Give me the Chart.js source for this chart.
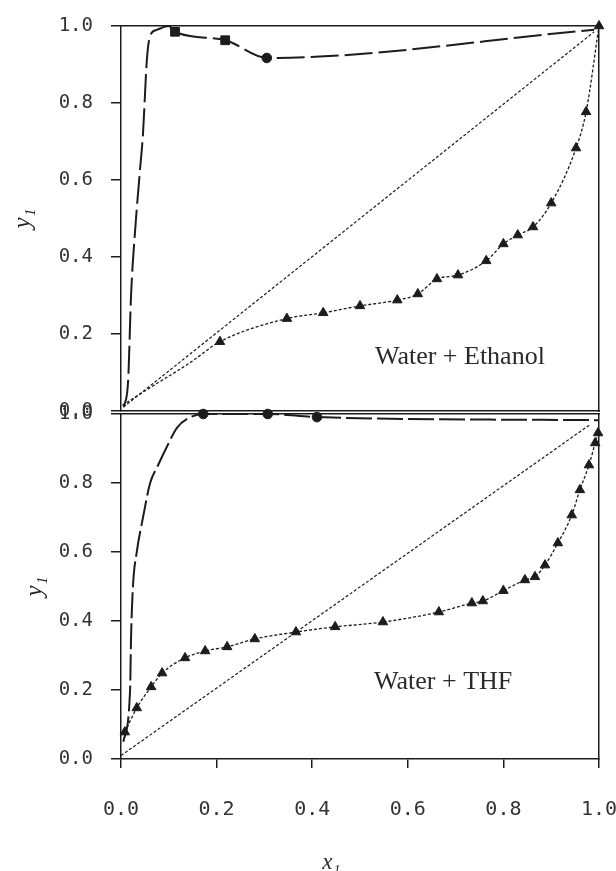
<!DOCTYPE html>
<html>
<head>
<meta charset="utf-8">
<script src="https://cdn.jsdelivr.net/npm/chart.js@4.4.1/dist/chart.umd.min.js"></script>
<style>
  body{margin:0;background:#fff;}
  #wrap{position:relative;width:616px;height:871px;}
  #wrap canvas{position:absolute;left:0;top:0;}
</style>
</head>
<body>
<div id="wrap">
  <canvas id="topChart" width="616" height="871"></canvas>
  <canvas id="bottomChart" width="616" height="871"></canvas>
</div>
<script>

/* =========================================
   Data
========================================= */

const yTicks = [0, 0.2, 0.4, 0.6, 0.8, 1.0];
const xTicks = [0, 0.2, 0.4, 0.6, 0.8, 1.0];

// y = x reference lines
const diagTopX = [0.005, 0.99];
const diagTopY = [0.01, 0.985];
const diagBotX = [0.0, 0.98];
const diagBotY = [0.01, 0.968];

// Water + Ethanol : lower curve + triangles
const ethLeadX = [0.003, 0.06, 0.144];
const ethLeadY = [0.015, 0.06, 0.125];
const ethTriX = [0.207, 0.347, 0.423, 0.50, 0.578, 0.621, 0.661, 0.705, 0.764, 0.80, 0.83, 0.862, 0.90, 0.952, 0.973, 1.0];
const ethTriY = [0.18, 0.24, 0.255, 0.273, 0.288, 0.304, 0.343, 0.353, 0.39, 0.434, 0.457, 0.478, 0.54, 0.683, 0.777, 1.0];

// Water + Ethanol : upper dashed curve + squares / circle
const ethVapX = [0.006, 0.015, 0.021, 0.029, 0.040, 0.046, 0.054, 0.061, 0.075, 0.10, 0.113, 0.218, 0.305, 0.99];
const ethVapY = [0.01, 0.08, 0.30, 0.46, 0.63, 0.72, 0.91, 0.975, 0.99, 1.0, 0.985, 0.963, 0.917, 0.99];
const ethSqX = [0.113, 0.218];
const ethSqY = [0.985, 0.963];
const ethCircX = [0.305];
const ethCircY = [0.917];

// Water + THF : lower curve with triangles
const thfTriX = [0.008, 0.033, 0.063, 0.086, 0.134, 0.176, 0.222, 0.28, 0.366, 0.448, 0.548, 0.665, 0.734, 0.757, 0.80, 0.845, 0.866, 0.887, 0.914, 0.943, 0.96, 0.979, 0.992, 0.998];
const thfTriY = [0.078, 0.148, 0.209, 0.249, 0.293, 0.313, 0.325, 0.348, 0.368, 0.383, 0.397, 0.426, 0.452, 0.458, 0.488, 0.519, 0.528, 0.562, 0.626, 0.707, 0.78, 0.852, 0.916, 0.945];

// Water + THF : upper dashed curve + circles
const thfVapX = [0.005, 0.019, 0.021, 0.025, 0.033, 0.046, 0.061, 0.077, 0.096, 0.117, 0.144, 0.172, 0.307, 0.41, 1.0];
const thfVapY = [0.05, 0.20, 0.35, 0.50, 0.60, 0.70, 0.80, 0.85, 0.905, 0.96, 0.99, 1.0, 1.0, 0.991, 0.982];
const thfCircX = [0.172, 0.307, 0.41];
const thfCircY = [1.0, 1.0, 0.991];


/* =========================================
   Helpers
========================================= */

const INK = "#1c1c1c";

function pts(xs, ys){
    return xs.map((x,i)=>({x, y:ys[i]}));
}

function curve(data, width, dash){
    return {
        data, showLine:true, borderColor:INK, borderWidth:width,
        borderDash:dash, pointRadius:0, cubicInterpolationMode:"monotone", clip:false
    };
}

function markers(data, style, r){
    return {
        data, showLine:false, pointStyle:style, pointRadius:r,
        backgroundColor:INK, borderColor:INK, borderWidth:1, clip:false
    };
}

const panelText = {
    id:"panelText",
    afterDatasetsDraw(chart, args, opts){
        const {ctx, scales:{x, y}} = chart;
        ctx.save();
        ctx.fillStyle = "#2a2a2a";
        ctx.textAlign = "center";
        ctx.textBaseline = "middle";
        (opts.items || []).forEach(it=>{
            ctx.font = it.font;
            ctx.fillText(it.text, x.getPixelForValue(it.x), y.getPixelForValue(it.y));
        });
        ctx.restore();
    }
};

function frameAxis(pos){
    return {
        type:"linear", position:pos, min:0, max:1,
        ticks:{display:false},
        grid:{display:false},
        border:{display:true, color:INK, width:1.5},
        afterFit:s=>{
            if(pos==="top"||pos==="bottom") s.height = 0; else s.width = 0;
            s.paddingLeft = s.paddingRight = s.paddingTop = s.paddingBottom = 0;
        }
    };
}

function yAxis(titlePad){
    return {
        type:"linear", position:"left", min:0, max:1,
        afterBuildTicks:s=>{ s.ticks = yTicks.map(v=>({value:v})); },
        ticks:{
            callback:v=>v.toFixed(1),
            font:{family:"DejaVu Sans Mono", size:19},
            color:"#333", padding:18
        },
        grid:{display:true, drawOnChartArea:false, drawTicks:true, tickLength:10, color:INK, lineWidth:1.5},
        border:{display:true, color:INK, width:1.5},
        title:{
            display:true, text:"y₁", color:"#222",
            font:{family:"Liberation Serif", style:"italic", size:25},
            padding:{top:titlePad, bottom:0}
        },
        afterFit:s=>{
            s.width = 121;
            s.paddingTop = s.paddingBottom = 0;
        }
    };
}

const baseOptions = {
    responsive:false,
    animation:false,
    events:[],
    plugins:{legend:{display:false}, tooltip:{enabled:false}}
};


/* =========================================
   Top panel : Water + Ethanol
========================================= */

new Chart(document.getElementById("topChart"),{
    type:"scatter",
    data:{
        datasets:[
            curve(pts(diagTopX, diagTopY), 1.2, [3,2]),
            curve(pts(ethLeadX.concat(ethTriX), ethLeadY.concat(ethTriY)), 1.3, [3,2]),
            markers(pts(ethTriX, ethTriY), "triangle", 5.5),
            curve(pts(ethVapX, ethVapY), 2, [28,6]),
            markers(pts(ethSqX, ethSqY), "rect", 6.2),
            markers(pts(ethCircX, ethCircY), "circle", 4.8)
        ]
    },
    options:{
        ...baseOptions,
        layout:{padding:{top:26, bottom:460, left:0, right:17}},
        scales:{
            x:frameAxis("bottom"),
            x2:frameAxis("top"),
            y:yAxis(8),
            y2:frameAxis("right")
        },
        plugins:{
            ...baseOptions.plugins,
            panelText:{items:[
                {text:"Water + Ethanol", x:0.709, y:0.14, font:"26px 'Liberation Serif'"}
            ]}
        }
    },
    plugins:[panelText]
});


/* =========================================
   Bottom panel : Water + THF
========================================= */

new Chart(document.getElementById("bottomChart"),{
    type:"scatter",
    data:{
        datasets:[
            curve(pts(diagBotX, diagBotY), 1.2, [3,2]),
            curve(pts(thfTriX, thfTriY), 1.3, [3,2]),
            markers(pts(thfTriX, thfTriY), "triangle", 5.5),
            curve(pts(thfVapX, thfVapY), 2, [26,5]),
            markers(pts(thfCircX, thfCircY), "circle", 4.8)
        ]
    },
    options:{
        ...baseOptions,
        layout:{padding:{top:414, bottom:0, left:0, right:17}},
        scales:{
            x:{
                type:"linear", position:"bottom", min:0, max:1,
                afterBuildTicks:s=>{ s.ticks = xTicks.map(v=>({value:v})); },
                ticks:{
                    callback:v=>v.toFixed(1),
                    font:{family:"DejaVu Sans Mono", size:20},
                    color:"#333", padding:30, maxRotation:0
                },
                grid:{display:true, drawOnChartArea:false, drawTicks:true, tickLength:9, color:INK, lineWidth:1.5},
                border:{display:true, color:INK, width:1.5},
                afterFit:s=>{
                    s.height = 112;
                    s.paddingLeft = s.paddingRight = 0;
                }
            },
            x2:frameAxis("top"),
            y:yAxis(20),
            y2:frameAxis("right")
        },
        plugins:{
            ...baseOptions.plugins,
            panelText:{items:[
                {text:"Water + THF", x:0.674, y:0.223, font:"26px 'Liberation Serif'"},
                {text:"x₁", x:0.44, y:-0.3, font:"italic 23px 'Liberation Serif'"}
            ]}
        }
    },
    plugins:[panelText]
});

</script>
</body>
</html>
